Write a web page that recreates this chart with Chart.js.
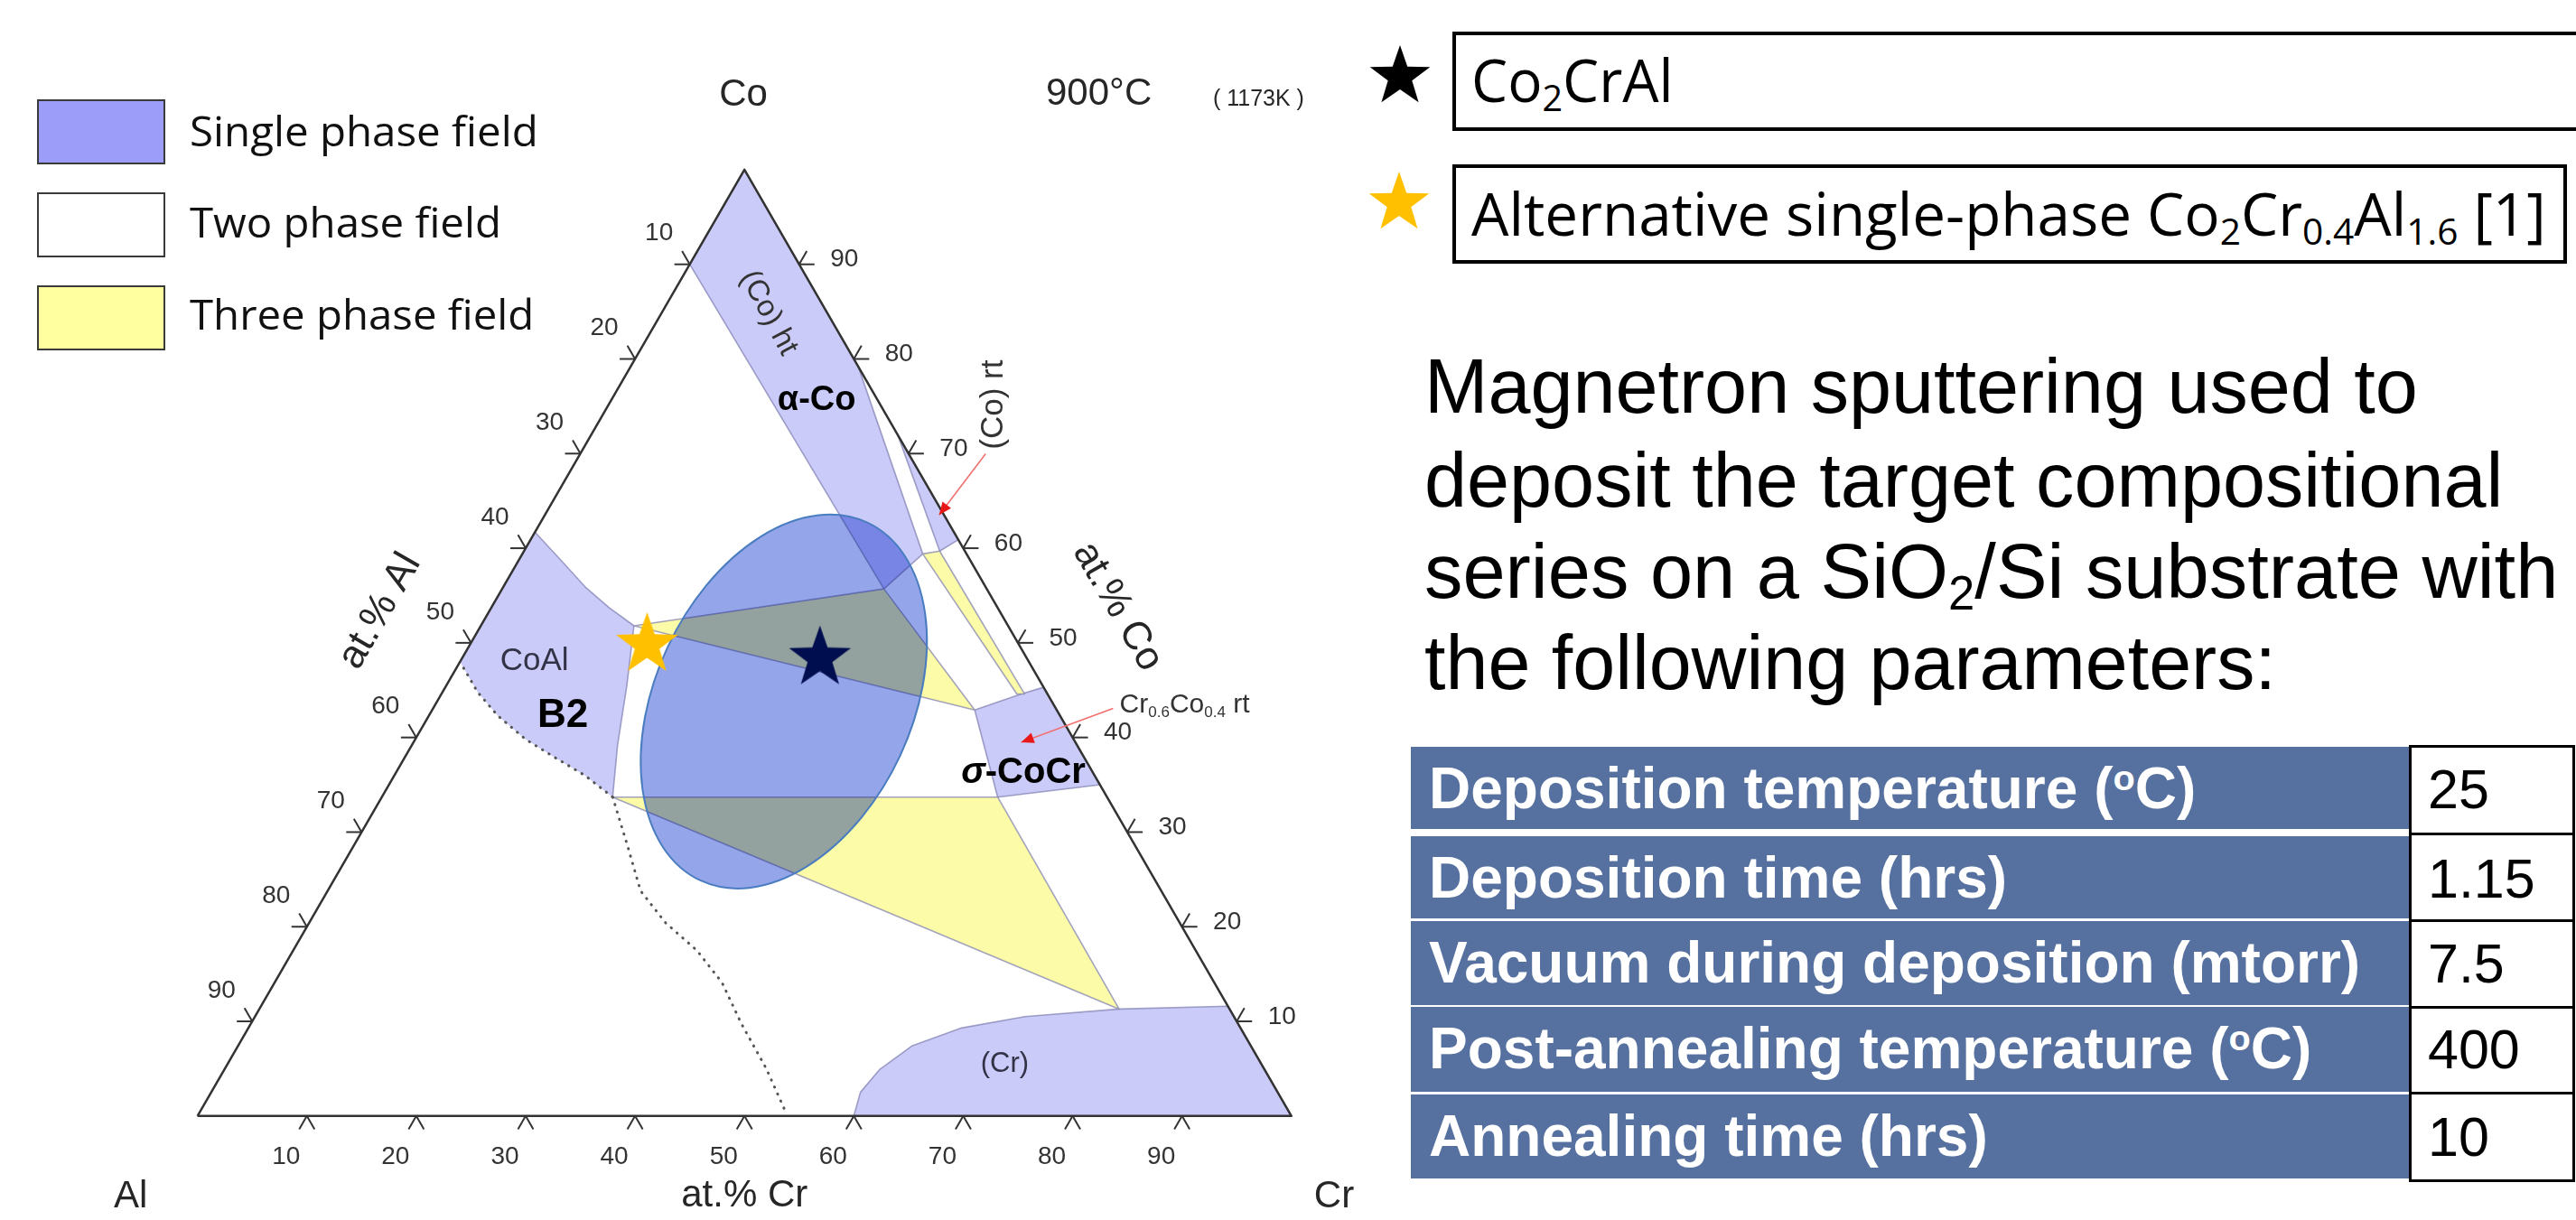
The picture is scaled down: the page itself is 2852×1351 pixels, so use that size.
<!DOCTYPE html>
<html>
<head>
<meta charset="utf-8">
<title>Co-Cr-Al 900°C isothermal section</title>
<script src="https://cdn.jsdelivr.net/npm/chart.js@4.4.1/dist/chart.umd.min.js"></script>
<style>
  html, body { margin: 0; padding: 0; background: #fff; }
  body {
    position: relative; width: 2852px; height: 1351px; overflow: hidden;
    font-family: "Liberation Sans", Arial, sans-serif; color: #000;
  }
  #ternary { position: absolute; left: 0; top: 0; }
  .abs { position: absolute; white-space: nowrap; line-height: 1; transform-origin: 0 0; }
  .key-box { position: absolute; left: 41px; width: 142px; height: 72px; box-sizing: border-box; border: 2px solid #3a3a3a; }
  .key-text { left: 210px; font-family: "Open Sans", sans-serif; font-size: 46px; color: #111; }
  .note-box { position: absolute; left: 1608px; height: 110px; box-sizing: border-box; border: 4px solid #000; }
  .note-text { left: 1629px; font-family: "Open Sans", sans-serif; font-size: 66px; }
  .lead { left: 1577px; font-size: 86px; }
  sub { font-size: 0.62em; vertical-align: -0.25em; line-height: 0; }
  sup { font-size: 0.62em; vertical-align: 0.5em; line-height: 0; }
  .param { position: absolute; left: 1562px; width: 1106px; background: #56719f; }
  .param-text { left: 1582px; font-size: 64px; font-weight: bold; color: #fff; }
  .value-cell { position: absolute; left: 2667px; width: 184px; box-sizing: border-box; border: 3px solid #000; border-bottom: none; background: #fff; }
  .value-text { left: 2688px; font-size: 61px; }
  svg.mark { position: absolute; overflow: visible; }
</style>
</head>
<body>
<canvas id="ternary" width="1560" height="1351" style="width:1560px;height:1351px"></canvas>

<!-- phase-field key -->
<div class="key-box" style="top:110px;background:#9c9cf9"></div>
<div class="abs key-text" style="top:121px" data-w="386">Single phase field</div>
<div class="key-box" style="top:213px;background:#fff"></div>
<div class="abs key-text" style="top:222px" data-w="345">Two phase field</div>
<div class="key-box" style="top:316px;background:#ffffa0"></div>
<div class="abs key-text" style="top:324px" data-w="381">Three phase field</div>

<!-- star key on the right -->
<svg class="mark" id="starBlack" style="left:1550px;top:85px" width="1" height="1"></svg>
<svg class="mark" id="starGold" style="left:1549px;top:225px" width="1" height="1"></svg>
<div class="note-box" style="top:35px;width:1270px"></div>
<div class="abs note-text" style="top:54px" data-w="224">Co<sub>2</sub>CrAl</div>
<div class="note-box" style="top:182px;width:1234px"></div>
<div class="abs note-text" style="top:202px" data-w="1190">Alternative single-phase Co<sub>2</sub>Cr<sub>0.4</sub>Al<sub>1.6</sub> [1]</div>

<div class="abs lead" style="top:384px" data-w="1100">Magnetron sputtering used to</div>
<div class="abs lead" style="top:488px" data-w="1194">deposit the target compositional</div>
<div class="abs lead" style="top:589px" data-w="1255">series on a SiO<sub>2</sub>/Si substrate with</div>
<div class="abs lead" style="top:690px" data-w="943">the following parameters:</div>

<div id="params"></div>

<script>
// ---------- data: compositions in at.% as [Cr, Co], Al is the remainder ----------
const tickValues = [10, 20, 30, 40, 50, 60, 70, 80, 90];

const frame = [[0, 0], [100, 0], [0, 100]];

// single phase fields
const coHtField = [[0, 100], [0, 90], [34.9, 55.7], [36.6, 59.4], [20.8, 79.2]];
const coRtField = [[28, 72], [38.0, 59.7], [39.1, 60.9]];
const sigmaField = [[49.6, 42.9], [53.0, 44.6], [54.7, 45.3], [65.0, 35.0], [56.3, 33.7]];
const crCurve = [[60, 0], [59.35, 2.5], [59.9, 4.9], [61.6, 7.4], [65.2, 9.3], [70.4, 10.5], [78.6, 11.3]];
const crEdge = [[88.4, 11.6], [100, 0]];
const b2Top = [[0, 61.7], [3.9, 58.7], [7.5, 55.9], [10.8, 53.7], [14.0, 51.8]];
const b2Right = [[16.5, 45.5], [18.8, 39.2], [21.1, 33.7]];
const b2Lower = [[17.4, 36.0], [13.7, 37.9], [10.1, 39.8], [6.3, 42.3], [3.2, 44.8], [0, 48.0]];

// dotted boundary below B2
const b2Dotted = [[21.1, 33.7], [25.0, 28.6], [28.6, 23.8], [32.6, 20.4], [36.9, 17.5],
                  [40.9, 14.1], [44.8, 9.8], [49.5, 5.0], [53.4, 0.6]];

// three phase fields
const threeUpper = [[14.0, 51.8], [34.9, 55.7], [49.6, 42.9]];
const threeStrip = [[36.6, 59.4], [38.0, 59.7], [53.3, 44.6], [52.6, 44.6]];
const threeLower = [[21.1, 33.7], [56.3, 33.7], [78.6, 11.3]];

// target compositions
const co2CrAl = [32.7, 48.4];
const altCo2CrAl = [16.2, 49.8];

// deposited composition spread (centre as [Cr, Co], half-axes in plot units, tilt in degrees)
const spreadCenter = [31.7, 43.8];
const spreadAxes = [18.05, 11.73];
const spreadTilt = 65;

// deposition parameters table
const paramLabels = [
  "Deposition temperature (<sup>o</sup>C)",
  "Deposition time (hrs)",
  "Vacuum during deposition (mtorr)",
  "Post-annealing temperature (<sup>o</sup>C)",
  "Annealing time (hrs)"
];
const paramValues = ["25", "1.15", "7.5", "400", "10"];

// ---------- helpers ----------
const H = Math.sqrt(3) / 2;
const toXY = (p) => ({ x: p[0] + p[1] / 2, y: p[1] * H });
const ring = (pts) => { const out = pts.map(toXY); out.push(out[0]); return out; };
const path = (pts) => pts.map(toXY);

const FIELD = "#cbcbf9";
const YELLOW = "#fcfba8";
const EDGE = "rgba(125, 125, 175, 0.7)";

function starPoints(r){
    const pts = [];
    for (let i = 0; i < 10; i++) {
        const rad = i % 2 ? r * 0.4 : r;
        const a = -Math.PI / 2 + i * Math.PI / 5;
        pts.push([rad * Math.cos(a), rad * Math.sin(a)]);
    }
    return pts;
}

function starCanvas(r, color){
    const c = document.createElement("canvas");
    c.width = c.height = Math.ceil(r * 2 + 4);
    const g = c.getContext("2d");
    g.translate(c.width / 2, c.height / 2);
    g.beginPath();
    starPoints(r).forEach(([x, y]) => g.lineTo(x, y));
    g.closePath();
    g.fillStyle = color;
    g.fill();
    return c;
}

function polygon(points, color, edge){
    return {
        data: ring(points), showLine: true, fill: "shape",
        backgroundColor: color, borderColor: edge || EDGE, borderWidth: edge === "none" ? 0 : 1.6,
        pointRadius: 0, tension: 0, borderJoinStyle: "round"
    };
}

function polyline(points, color, width, dash){
    return {
        data: path(points), showLine: true, fill: false,
        borderColor: color, borderWidth: width, borderDash: dash || [],
        borderCapStyle: dash ? "round" : "butt", borderJoinStyle: "round",
        pointRadius: 0, tension: 0
    };
}

// ---------- drawing plugin: composition spread, ticks, annotations ----------
function pix(chart, X, Y){
    return [chart.scales.x.getPixelForValue(X), chart.scales.y.getPixelForValue(Y)];
}

function text(ctx, str, x, y, font, color, rot, align){
    ctx.save();
    ctx.translate(x, y);
    ctx.rotate((rot || 0) * Math.PI / 180);
    ctx.font = font;
    ctx.fillStyle = color;
    ctx.textAlign = align || "center";
    ctx.textBaseline = "middle";
    ctx.fillText(str, 0, 0);
    ctx.restore();
}

function arrow(ctx, a, b){
    const ang = Math.atan2(b[1] - a[1], b[0] - a[0]);
    ctx.save();
    ctx.strokeStyle = "#f07070";
    ctx.fillStyle = "#e81818";
    ctx.lineWidth = 1.6;
    ctx.beginPath(); ctx.moveTo(a[0], a[1]); ctx.lineTo(b[0], b[1]); ctx.stroke();
    ctx.translate(b[0], b[1]); ctx.rotate(ang);
    ctx.beginPath(); ctx.moveTo(0, 0); ctx.lineTo(-14, -6); ctx.lineTo(-14, 6); ctx.closePath(); ctx.fill();
    ctx.restore();
}

function drawSpread(chart){
    const ctx = chart.ctx;
    const c = toXY(spreadCenter);
    const [cx, cy] = pix(chart, c.x, c.y);
    const unit = Math.abs(chart.scales.x.getPixelForValue(1) - chart.scales.x.getPixelForValue(0));
    ctx.save();
    ctx.beginPath();
    ctx.ellipse(cx, cy, spreadAxes[0] * unit, spreadAxes[1] * unit, -spreadTilt * Math.PI / 180, 0, Math.PI * 2);
    ctx.globalCompositeOperation = "multiply";
    ctx.fillStyle = "#98a6ec";
    ctx.fill();
    ctx.globalCompositeOperation = "source-over";
    ctx.fillStyle = "rgba(120, 150, 200, 0.08)";
    ctx.fill();
    ctx.strokeStyle = "#4a7cc0";
    ctx.lineWidth = 2;
    ctx.stroke();
    ctx.restore();
}

const diagramPlugin = {
    id: "diagram",
    beforeDraw(chart){ chart.$spreadDone = false; },
    beforeDatasetDraw(chart, args){
        if (chart.$spreadDone || !chart.data.datasets[args.index].isMarker) return;
        chart.$spreadDone = true;
        drawSpread(chart);
    },
    afterDraw(chart){
        const ctx = chart.ctx;
        const P = (comp) => { const p = toXY(comp); return pix(chart, p.x, p.y); };
        const L = 17;
        const tickFont = '28px "Liberation Sans", Arial, sans-serif';
        const seg = (x, y, dx, dy) => { ctx.beginPath(); ctx.moveTo(x, y); ctx.lineTo(x + dx, y + dy); ctx.stroke(); };

        ctx.save();
        ctx.strokeStyle = "#333";
        ctx.lineWidth = 2;
        tickValues.forEach((v) => {
            let [x, y] = P([v, 0]);                       // at.% Cr (bottom)
            seg(x, y, -0.5 * L, H * L); seg(x, y, 0.5 * L, H * L);
            text(ctx, String(v), x - 23, y + 45, tickFont, "#333");
            [x, y] = P([0, 100 - v]);                     // at.% Al (left)
            seg(x, y, -L, 0); seg(x, y, -0.5 * L, -H * L);
            text(ctx, String(v), x - 34, y - 34, tickFont, "#333");
            [x, y] = P([100 - v, v]);                     // at.% Co (right)
            seg(x, y, L, 0); seg(x, y, 0.5 * L, -H * L);
            text(ctx, String(v), x + 50, y - 5, tickFont, "#333");
        });
        ctx.restore();

        const T = (X, Y) => pix(chart, X, Y);
        const f = (size, weight) => `${weight || ""} ${size}px "Liberation Sans", Arial, sans-serif`;
        const dark = "#262626";

        text(ctx, "Co", ...T(49.9, 93.4), f(42), dark);
        text(ctx, "900°C", ...T(82.4, 93.5), f(42), dark);
        text(ctx, "( 1173K )", ...T(97.0, 93.0), f(25), dark);
        text(ctx, "Al", ...T(-6.1, -7.4), f(42), dark);
        text(ctx, "Cr", ...T(103.9, -7.4), f(42), dark);
        text(ctx, "at.% Cr", ...T(50.0, -7.3), f(42), dark);
        text(ctx, "at.% Al", ...T(16.7, 46.2), f(44), dark, -60);
        text(ctx, "at.% Co", ...T(84.1, 46.6), f(44), dark, 60);

        text(ctx, "(Co) ht", ...T(52.2, 73.5), f(33), "#333", 62);
        text(ctx, "α-Co", ...T(56.6, 65.5), f(38, "bold"), "#000");
        text(ctx, "(Co) rt", ...T(72.8, 65.1), f(35), "#333", -90);
        text(ctx, "CoAl", ...T(30.8, 41.6), f(35), "#333348");
        text(ctx, "B2", ...T(33.4, 36.6), f(44, "bold"), "#000");
        text(ctx, "(Cr)", ...T(73.8, 4.7), f(31), "#333348");

        // sigma-CoCr with italic sigma
        ctx.save();
        const [sx, sy] = T(75.5, 31.4);
        ctx.font = f(40, "italic bold");
        const w1 = ctx.measureText("σ").width;
        ctx.font = f(40, "bold");
        const w2 = ctx.measureText("-CoCr").width;
        const x0 = sx - (w1 + w2) / 2;
        text(ctx, "σ", x0, sy, f(40, "italic bold"), "#000", 0, "left");
        text(ctx, "-CoCr", x0 + w1, sy, f(40, "bold"), "#000", 0, "left");
        ctx.restore();

        // Cr0.6Co0.4 rt with subscripts
        let [cx, cy] = T(84.3, 37.6);
        [["Cr", 30, 0], ["0.6", 17, 8], ["Co", 30, 0], ["0.4", 17, 8], [" rt", 30, 0]].forEach(([s, size, dy]) => {
            text(ctx, s, cx, cy + dy, f(size), "#333", 0, "left");
            ctx.font = f(size);
            cx += ctx.measureText(s).width;
        });

        arrow(ctx, T(72.05, 60.6), T(67.8, 55.0));
        arrow(ctx, T(83.7, 37.3), T(75.3, 34.2));
    }
};

// ---------- chart ----------
const datasets = [
    polygon(coHtField, FIELD),
    polygon(coRtField, FIELD),
    polygon(sigmaField, FIELD),
    polygon([...crCurve, ...crEdge], FIELD),
    polygon([...b2Top, ...b2Right, ...b2Lower], FIELD, "none"),
    polyline([...b2Top, ...b2Right], EDGE, 1.6),
    polygon(threeUpper, YELLOW),
    polygon(threeStrip, YELLOW),
    polygon(threeLower, YELLOW),
    polyline([...frame, frame[0]], "#333", 2.5),
    polyline([b2Right[b2Right.length - 1], ...b2Lower], "#555", 3, [0.5, 8]),
    polyline(b2Dotted, "#555", 3, [0.5, 8]),
    { data: [toXY(altCo2CrAl)], pointStyle: starCanvas(36, "#ffc000"), isMarker: true },
    { data: [toXY(co2CrAl)], pointStyle: starCanvas(36, "#000e50"), isMarker: true }
];
datasets.forEach((d, i) => { d.order = datasets.length - i; });

new Chart(document.getElementById("ternary"), {
    type: "scatter",
    data: { datasets },
    options: {
        responsive: false,
        animation: false,
        devicePixelRatio: 1,
        events: [],
        layout: { padding: 0 },
        scales: {
            x: { type: "linear", display: false, min: -17.64, max: 110.34 },
            y: { type: "linear", display: false, min: -9.106, max: 101.72 }
        },
        plugins: {
            legend: { display: false },
            tooltip: { enabled: false },
            filler: { drawTime: "beforeDatasetDraw" }
        }
    },
    plugins: [diagramPlugin]
});

// ---------- right-hand key stars ----------
[["starBlack", "#000"], ["starGold", "#ffc000"]].forEach(([id, color]) => {
    const svg = document.getElementById(id);
    const poly = document.createElementNS("http://www.w3.org/2000/svg", "polygon");
    poly.setAttribute("points", starPoints(35).map((p) => p.join(",")).join(" "));
    poly.setAttribute("fill", color);
    svg.appendChild(poly);
});

// ---------- parameter table ----------
const rowTops = [827, 926, 1020, 1115, 1212];
const rowBottoms = [918, 1017, 1113, 1209, 1305];
const cellLines = [825, 922, 1018, 1114, 1209, 1306];
const params = document.getElementById("params");
paramLabels.forEach((lab, i) => {
    params.insertAdjacentHTML("beforeend",
        `<div class="param" style="top:${rowTops[i]}px;height:${rowBottoms[i] - rowTops[i]}px"></div>` +
        `<div class="abs param-text" style="top:${rowTops[i] + 14}px">${lab}</div>` +
        `<div class="value-cell" style="top:${cellLines[i]}px;height:${cellLines[i + 1] - cellLines[i] + 3}px${i === paramLabels.length - 1 ? ";border-bottom:3px solid #000" : ""}"></div>` +
        `<div class="abs value-text" style="top:${rowTops[i] + 17}px">${paramValues[i]}</div>`);
});

// squeeze text to the measured widths of the original slide
document.querySelectorAll("[data-w]").forEach((el) => {
    const w = parseFloat(el.dataset.w);
    el.style.transform = `scaleX(${(w / el.offsetWidth).toFixed(4)})`;
});
</script>
</body>
</html>
